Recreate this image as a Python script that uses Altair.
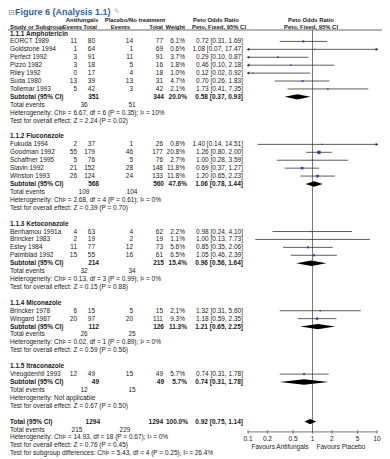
import altair as alt
import pandas as pd
import numpy as np

# ---------------- data ----------------
group_names = ["1.1.1 Amphotericin", "1.1.2 Fluconazole", "1.1.3 Ketoconazole",
               "1.1.4 Miconazole", "1.1.5 Itraconazole"]

study_names = ["EORCT 1989", "Goldstone 1994", "Perfect 1992", "Pizzo 1982", "Riley 1992",
               "Suda 1980", "Tollemar 1993",
               "Fukuda 1994", "Goodman 1992", "Schaffner 1995", "Slavin 1992", "Winston 1993",
               "Benhamou 1991a", "Brincker 1983", "Estey 1984", "Palmblad 1992",
               "Brincker 1978", "Wingard 1987",
               "Vreugdenhil 1993"]
study_group = [0, 0, 0, 0, 0, 0, 0, 1, 1, 1, 1, 1, 2, 2, 2, 2, 3, 3, 4]
ev_anti = [11, 1, 3, 3, 0, 13, 5, 2, 55, 5, 21, 26, 4, 2, 11, 15, 6, 20, 12]
tot_anti = [80, 64, 91, 18, 17, 39, 42, 37, 179, 76, 152, 124, 63, 19, 77, 55, 15, 97, 49]
ev_plac = [14, 1, 11, 5, 4, 13, 3, 1, 46, 5, 28, 24, 4, 2, 12, 16, 5, 20, 15]
tot_plac = [77, 69, 91, 16, 18, 31, 42, 26, 177, 76, 148, 133, 62, 19, 73, 61, 15, 111, 49]
weights = [6.1, 0.6, 3.7, 1.8, 1.0, 4.7, 2.1, 0.8, 20.8, 2.7, 11.8, 11.8, 2.2, 1.1, 5.6, 6.5,
           2.1, 9.3, 5.7]
or_est = [0.72, 1.08, 0.29, 0.46, 0.12, 0.70, 1.73, 1.40, 1.26, 1.00, 0.69, 1.20, 0.98, 1.00,
          0.85, 1.05, 1.32, 1.18, 0.74]
or_lo = [0.31, 0.07, 0.10, 0.10, 0.02, 0.26, 0.41, 0.14, 0.80, 0.28, 0.37, 0.65, 0.24, 0.13,
         0.35, 0.46, 0.31, 0.59, 0.31]
or_hi = [1.69, 17.47, 0.87, 2.18, 0.92, 1.83, 7.35, 14.51, 2.00, 3.59, 1.27, 2.23, 4.10, 7.73,
         2.06, 2.39, 5.60, 2.35, 1.78]

sub_tot_anti = [351, 568, 214, 112, 49]
sub_tot_plac = [344, 560, 215, 126, 49]
sub_weight = [20.0, 47.6, 15.4, 11.3, 5.7]
sub_est = [0.58, 1.06, 0.96, 1.21, 0.74]
sub_lo = [0.37, 0.78, 0.56, 0.65, 0.31]
sub_hi = [0.93, 1.44, 1.64, 2.25, 1.78]
sub_ev_anti = [36, 109, 32, 26, 12]
sub_ev_plac = [51, 104, 34, 25, 15]
sub_het = ["Heterogeneity: Chi² = 6.67, df = 6 (P = 0.35); I² = 10%",
           "Heterogeneity: Chi² = 2.68, df = 4 (P = 0.61); I² = 0%",
           "Heterogeneity: Chi² = 0.13, df = 3 (P = 0.99); I² = 0%",
           "Heterogeneity: Chi² = 0.02, df = 1 (P = 0.89); I² = 0%",
           "Heterogeneity: Not applicable"]
sub_test = ["Test for overall effect: Z = 2.24 (P = 0.02)",
            "Test for overall effect: Z = 0.39 (P = 0.70)",
            "Test for overall effect: Z = 0.15 (P = 0.88)",
            "Test for overall effect: Z = 0.59 (P = 0.56)",
            "Test for overall effect: Z = 0.67 (P = 0.50)"]

total_tot_anti = 1294
total_tot_plac = 1294
total_weight = 100.0
total_est, total_lo, total_hi = 0.92, 0.75, 1.14
total_ev_anti, total_ev_plac = 215, 229
total_lines = ["Heterogeneity: Chi² = 14.93, df = 18 (P = 0.67); I² = 0%",
               "Test for overall effect: Z = 0.76 (P = 0.45)",
               "Test for subgroup differences: Chi² = 5.43, df = 4 (P = 0.25), I² = 26.4%"]

tick_values = [0.1, 0.2, 0.5, 1, 2, 5, 10]
tick_labels = ["0.1", "0.2", "0.5", "1", "2", "5", "10"]

# ---------------- build rows ----------------
def fmt_or(e, l, h):
    return f"{e:.2f} [{l:.2f}, {h:.2f}]"

rows = []
r = 0
for g, gname in enumerate(group_names):
    rows.append(dict(row=r, kind="group", label=gname)); r += 1
    for i, s in enumerate(study_names):
        if study_group[i] != g:
            continue
        rows.append(dict(row=r, kind="study", label=s, ev1=str(ev_anti[i]), tot1=str(tot_anti[i]),
                         ev2=str(ev_plac[i]), tot2=str(tot_plac[i]), wt=f"{weights[i]:.1f}%",
                         ort=fmt_or(or_est[i], or_lo[i], or_hi[i]),
                         est=or_est[i], lo=or_lo[i], hi=or_hi[i], w=weights[i]))
        r += 1
    rows.append(dict(row=r, kind="sub", label="Subtotal (95% CI)", tot1=str(sub_tot_anti[g]),
                     tot2=str(sub_tot_plac[g]), wt=f"{sub_weight[g]:.1f}%",
                     ort=fmt_or(sub_est[g], sub_lo[g], sub_hi[g]),
                     est=sub_est[g], lo=sub_lo[g], hi=sub_hi[g])); r += 1
    rows.append(dict(row=r, kind="events", label="Total events", ev1=str(sub_ev_anti[g]),
                     ev2=str(sub_ev_plac[g]))); r += 1
    rows.append(dict(row=r, kind="note", label=sub_het[g])); r += 1
    rows.append(dict(row=r, kind="note", label=sub_test[g])); r += 1
    r += 1
rows.append(dict(row=r, kind="total", label="Total (95% CI)", tot1=str(total_tot_anti),
                 tot2=str(total_tot_plac), wt=f"{total_weight:.1f}%",
                 ort=fmt_or(total_est, total_lo, total_hi),
                 est=total_est, lo=total_lo, hi=total_hi)); r += 1
rows.append(dict(row=r, kind="tevents", label="Total events", ev1=str(total_ev_anti),
                 ev2=str(total_ev_plac))); r += 1
for t in total_lines:
    rows.append(dict(row=r, kind="note", label=t)); r += 1

df = pd.DataFrame(rows)
NROW = r - 1  # 53

# ---------------- styling ----------------
FONT = "Liberation Sans, Arial, sans-serif"
FS = 6.5
HFS = 5.9
TXT = "#222222"
W, H = 374, 449

yscale = alt.Scale(domain=[0, NROW], range=[25.5, 445.3])
xscale = alt.Scale(type="log", domain=[0.1, 10], range=[240, 369])
Y = alt.Y("row:Q", scale=yscale, axis=None)


def txt(data, field, x, align, bold=False, size=FS, color=TXT):
    return alt.Chart(data).mark_text(
        align=align, baseline="middle", font=FONT, fontSize=size,
        fontWeight="bold" if bold else "normal", color=color
    ).encode(x=alt.value(x), y=Y, text=f"{field}:N")


def hdr(text, x, y, align, bold=True, size=HFS, color=TXT, font=FONT, baseline="middle"):
    return alt.Chart(pd.DataFrame({"t": [text]})).mark_text(
        align=align, baseline=baseline, font=font, fontSize=size,
        fontWeight="bold" if bold else "normal", color=color
    ).encode(x=alt.value(x), y=alt.value(y), text="t:N")


bold_kinds = ["group", "sub", "total"]
d_norm = df[~df.kind.isin(bold_kinds)]
d_bold = df[df.kind.isin(bold_kinds)]
d_study = df[df.kind == "study"]
d_sub = df[df.kind == "sub"]
d_tot = df[df.kind == "total"]
d_diam = df[df.kind.isin(["sub", "total"])]
d_ev = df[df.kind == "events"]
d_tev = df[df.kind == "tevents"]

layers = []
# title
layers.append(hdr("⊟", 0, 0.5, "left", bold=False, size=8, color="#6b7fa6",
                  font="DejaVu Sans", baseline="top"))
layers.append(hdr("Figure 6 (Analysis 1.1)", 7, 0, "left", bold=True, size=9,
                  color="#2f62ae", font="Liberation Sans, Arial, sans-serif", baseline="top"))
layers.append(hdr("✎", 106, 0, "left", bold=False, size=6.5, color="#a58fd0",
                  font="DejaVu Sans", baseline="top"))
# headers row 1
layers.append(hdr("Antifungals", 74, 12, "center"))
layers.append(hdr("Placebo/No treatment", 127, 12, "center"))
layers.append(hdr("Peto Odds Ratio", 208, 12, "center"))
layers.append(hdr("Peto Odds Ratio", 303, 12, "center"))
# headers row 2
layers.append(hdr("Study or Subgroup", 2, 18.5, "left"))
layers.append(hdr("Events", 74, 18.5, "right"))
layers.append(hdr("Total", 89, 18.5, "right"))
layers.append(hdr("Events", 122, 18.5, "right"))
layers.append(hdr("Total", 155, 18.5, "right"))
layers.append(hdr("Weight", 177, 18.5, "right"))
layers.append(hdr("Peto, Fixed, 95% CI", 211, 18.5, "center"))
layers.append(hdr("Peto, Fixed, 95% CI", 303, 18.5, "center"))
# header underline
layers.append(alt.Chart(pd.DataFrame({"a": [0]})).mark_rule(color="#444", strokeWidth=0.8)
              .encode(x=alt.value(0), x2=alt.value(W), y=alt.value(22)))

# labels
layers.append(txt(d_norm, "label", 2, "left"))
layers.append(txt(d_bold, "label", 2, "left", bold=True))
# study columns
layers.append(txt(d_study, "ev1", 69, "right"))
layers.append(txt(d_study, "tot1", 87, "right"))
layers.append(txt(d_study, "ev2", 125, "right"))
layers.append(txt(d_study, "tot2", 155, "right"))
layers.append(txt(d_study, "wt", 177, "right"))
layers.append(txt(d_study, "ort", 235, "right"))
# subtotal columns
layers.append(txt(d_sub, "tot1", 91, "right", bold=True))
layers.append(txt(d_sub, "tot2", 156, "right", bold=True))
layers.append(txt(d_sub, "wt", 179, "right", bold=True))
# total row columns
layers.append(txt(d_tot, "tot1", 92, "right", bold=True))
layers.append(txt(d_tot, "tot2", 155, "right", bold=True))
layers.append(txt(d_tot, "wt", 180, "right", bold=True))
layers.append(txt(d_diam, "ort", 235, "right", bold=True))
# events
layers.append(txt(d_ev, "ev1", 76, "center"))
layers.append(txt(d_ev, "ev2", 124, "center"))
layers.append(txt(d_tev, "ev1", 69, "center"))
layers.append(txt(d_tev, "ev2", 117, "center"))

# ---------------- forest ----------------
AX = 50.3
ci = d_study[["row", "est", "lo", "hi", "w"]].copy()
ci["lo_c"] = ci["lo"].clip(lower=0.1)
ci["hi_c"] = ci["hi"].clip(upper=10)

# reference line at 1
vline = pd.DataFrame({"v": [1.0], "top": [-0.44], "bot": [AX]})
layers.append(alt.Chart(vline).mark_rule(color="#555", strokeWidth=0.8).encode(
    x=alt.X("v:Q", scale=xscale, axis=None),
    y=alt.Y("top:Q", scale=yscale, axis=None), y2="bot:Q"))

layers.append(alt.Chart(ci).mark_rule(color="#333", strokeWidth=0.8).encode(
    x=alt.X("lo_c:Q", scale=xscale, axis=None), x2="hi_c:Q", y=Y))

arrows = []
for _, rr in ci.iterrows():
    if rr["lo"] <= 0.1:
        arrows.append(dict(row=rr["row"], x=0.1, shape="triangle-left"))
    if rr["hi"] >= 10:
        arrows.append(dict(row=rr["row"], x=10.0, shape="triangle-right"))
layers.append(alt.Chart(pd.DataFrame(arrows)).mark_point(filled=True, size=10, color="#333",
                                                         opacity=1).encode(
    x=alt.X("x:Q", scale=xscale, axis=None), y=Y,
    shape=alt.Shape("shape:N", scale=None, legend=None)))

layers.append(alt.Chart(ci).mark_square(color="#3535d0", opacity=1).encode(
    x=alt.X("est:Q", scale=xscale, axis=None), y=Y,
    size=alt.Size("w:Q", scale=alt.Scale(domain=[0, 21], range=[1.2, 11]), legend=None)))

# diamonds
HALF = 0.34
dia = []
for _, rr in d_diam.iterrows():
    k = int(rr["row"])
    dia.append(dict(id=k, x=rr["lo"], y1=k, y2=k))
    dia.append(dict(id=k, x=rr["est"], y1=k - HALF, y2=k + HALF))
    dia.append(dict(id=k, x=rr["hi"], y1=k, y2=k))
layers.append(alt.Chart(pd.DataFrame(dia)).mark_area(color="black", orient="vertical",
                                                     opacity=1).encode(
    x=alt.X("x:Q", scale=xscale, axis=None),
    y=alt.Y("y1:Q", scale=yscale, axis=None), y2="y2:Q",
    detail="id:N"))

# axis
axl = pd.DataFrame({"a": [0.1], "b": [10.0], "row": [AX]})
layers.append(alt.Chart(axl).mark_rule(color="#555", strokeWidth=0.8).encode(
    x=alt.X("a:Q", scale=xscale, axis=None), x2="b:Q", y=Y))
ticks = pd.DataFrame({"v": tick_values, "lab": tick_labels,
                      "t0": [AX - 0.22] * 7, "t1": [AX + 0.22] * 7, "tl": [AX + 0.85] * 7})
layers.append(alt.Chart(ticks).mark_rule(color="#555", strokeWidth=0.8).encode(
    x=alt.X("v:Q", scale=xscale, axis=None),
    y=alt.Y("t0:Q", scale=yscale, axis=None), y2="t1:Q"))
layers.append(alt.Chart(ticks).mark_text(font=FONT, fontSize=FS, color=TXT, baseline="middle")
              .encode(x=alt.X("v:Q", scale=xscale, axis=None),
                      y=alt.Y("tl:Q", scale=yscale, axis=None), text="lab:N"))
fav = pd.DataFrame({"v": [1.0], "row": [AX + 1.85]})
layers.append(alt.Chart(fav).mark_text(font=FONT, fontSize=FS, color=TXT, align="right",
                                       baseline="middle", dx=-4, text="Favours Antifungals")
              .encode(x=alt.X("v:Q", scale=xscale, axis=None), y=Y))
layers.append(alt.Chart(fav).mark_text(font=FONT, fontSize=FS, color=TXT, align="left",
                                       baseline="middle", dx=4, text="Favours Placebo")
              .encode(x=alt.X("v:Q", scale=xscale, axis=None), y=Y))

chart = alt.layer(*layers).properties(
    width=W, height=H, padding=0, autosize=alt.AutoSizeParams(type="none"),
    background="white"
).configure_view(strokeWidth=0)

chart.save("out.html", embed_options={"renderer": "svg", "actions": False})
